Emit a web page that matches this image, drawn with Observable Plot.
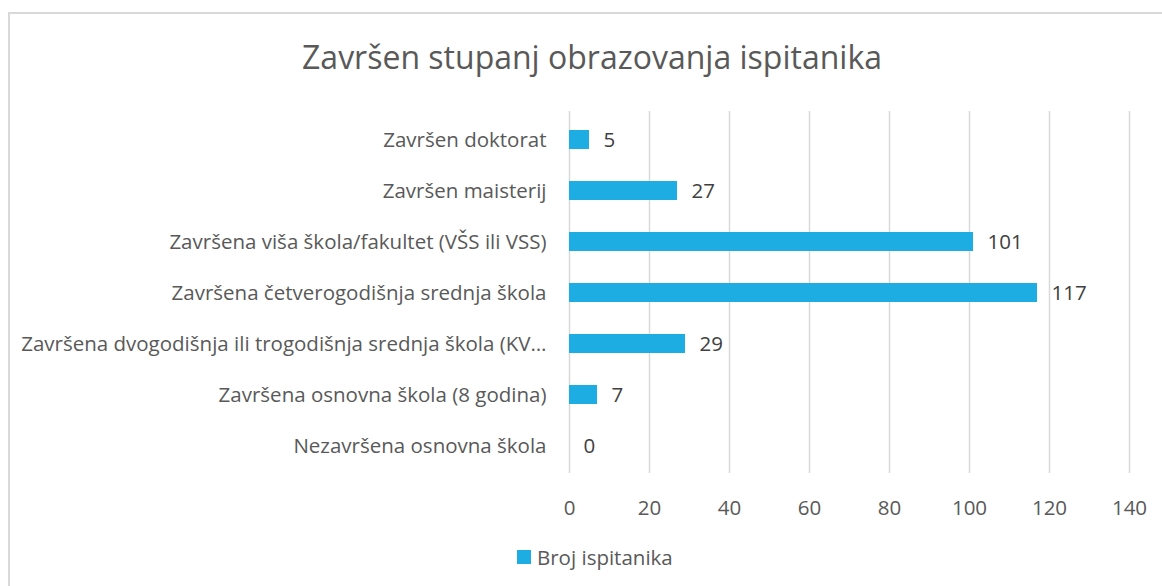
<!DOCTYPE html>
<html><head><meta charset="utf-8">
<script src="https://cdn.jsdelivr.net/npm/d3@7"></script>
<script src="https://cdn.jsdelivr.net/npm/@observablehq/plot@0.6"></script>
<style>
html,body{margin:0;padding:0;background:#fff;overflow:hidden;width:1162px;height:586px;}
body{font-family:"Open Sans",sans-serif;color:#595959;position:relative;}
#frame{position:absolute;left:8px;top:12px;width:1300px;height:700px;border-left:2px solid #d9d9d9;border-top:2px solid #d9d9d9;box-sizing:border-box;}
#title{position:absolute;left:0;width:1184px;top:35px;text-align:center;font-size:32px;line-height:44px;color:#595959;}
#chart{position:absolute;left:0;top:100px;}
#legend{position:absolute;top:544px;left:517px;font-size:20.5px;line-height:26px;color:#595959;display:flex;align-items:center;}
#legend .sw{width:14px;height:14px;background:#1DADE2;margin-right:6px;}
</style></head>
<body>
<div id="frame"></div>
<div id="title">Završen stupanj obrazovanja ispitanika</div>
<div id="chart"></div>
<div id="legend"><span class="sw"></span><span id="legendText"></span></div>
<script>
const categories = [
  "Završen doktorat",
  "Završen maisterij",
  "Završena viša škola/fakultet (VŠS ili VSS)",
  "Završena četverogodišnja srednja škola",
  "Završena dvogodišnja ili trogodišnja srednja škola (KV…",
  "Završena osnovna škola (8 godina)",
  "Nezavršena osnovna škola"
];
const values = [5, 27, 101, 117, 29, 7, 0];
const xTicks = [0, 20, 40, 60, 80, 100, 120, 140];
const seriesName = "Broj ispitanika";

const data = categories.map((c, i) => ({category: c, value: values[i]}));
document.getElementById("legendText").textContent = seriesName;

const chart = Plot.plot({
  width: 1162,
  height: 430,
  marginLeft: 569,
  marginRight: 33,
  marginTop: 11,
  marginBottom: 57,
  style: {fontFamily: "Open Sans, sans-serif", fontSize: "20px", color: "#595959", background: "transparent"},
  x: {domain: [0, 140], axis: null},
  y: {domain: categories, paddingInner: 0.63, paddingOuter: 0.315, axis: null},
  marks: [
    Plot.gridX(xTicks, {stroke: "#d9d9d9", strokeOpacity: 1, strokeWidth: 1.5}),
    Plot.axisX(xTicks, {tickSize: 0, tickPadding: 27, fontSize: 20.5, fill: "#595959", tickFormat: d => String(d), label: null}),
    Plot.axisY({tickSize: 0, tickPadding: 23, fontSize: 20.5, fill: "#595959", label: null}),
    Plot.barX(data, {x: "value", y: "category", fill: "#1DADE2"}),
    Plot.text(data, {x: "value", y: "category", text: d => String(d.value), textAnchor: "start", dx: 14, fontSize: 20.5, fill: "#404040"})
  ]
});
document.getElementById("chart").appendChild(chart);
</script>
</body></html>
